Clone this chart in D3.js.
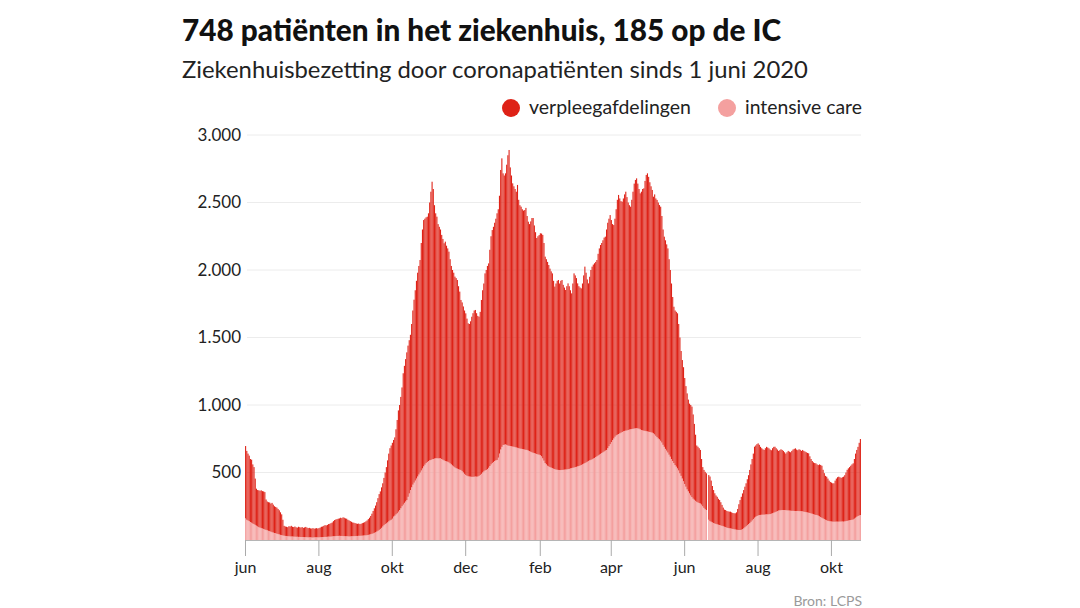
<!DOCTYPE html>
<html>
<head>
<meta charset="utf-8">
<script src="https://cdn.jsdelivr.net/npm/d3@7"></script>
<style>
  html, body { margin: 0; padding: 0; background: #fff; }
  svg { display: block; font-family: Lato, "Open Sans", sans-serif; }
</style>
</head>
<body>
<svg id="chart" width="1080" height="608"></svg>
<script>
// ---------- DATA ----------
const titleText = "748 patiënten in het ziekenhuis, 185 op de IC";
const subtitleText = "Ziekenhuisbezetting door coronapatiënten sinds 1 juni 2020";
const sourceText = "Bron: LCPS";
const seriesNames = ["verpleegafdelingen", "intensive care"];
const startDate = "2020-06-01";   // first day (category) of the series

// total hospital occupancy (verpleegafdelingen + IC), one value per day
const totaal = [
  // jun 2020
  696,660,640,625,600,595,560,540,455,380,370,368,365,368,362,360,355,300,285,280,278,270,275,262,250,245,240,230,220,205,
  // jul 2020
  190,150,105,100,98,95,102,100,105,98,96,100,94,92,98,95,92,96,90,93,97,92,88,90,86,85,88,84,86,88,85,
  // aug 2020
  88,92,98,100,105,110,108,112,118,120,125,130,140,148,152,155,158,160,165,162,168,165,160,158,150,145,140,135,130,128,125,
  // sep 2020
  122,120,122,118,120,125,128,132,138,145,155,165,178,195,215,235,255,280,310,340,360,390,420,460,500,540,590,640,680,700,
  // okt 2020
  720,741,760,820,889,960,1000,1060,1130,1235,1290,1340,1390,1440,1480,1520,1600,1700,1780,1850,1920,1980,2030,2074,2200,2300,2370,2380,2390,2395,2420,
  // nov 2020
  2500,2580,2654,2600,2480,2420,2395,2340,2320,2300,2260,2230,2198,2210,2180,2160,2136,2080,2030,2000,1980,1951,1940,1926,1880,1840,1778,1760,1730,1700,
  // dec 2020
  1679,1640,1605,1600,1620,1654,1680,1700,1704,1680,1660,1654,1690,1778,1850,1900,1975,2000,2030,2049,2150,2250,2296,2320,2350,2380,2420,2450,2550,2741,2827,
  // jan 2021
  2716,2700,2716,2780,2850,2889,2760,2700,2642,2620,2600,2580,2630,2520,2480,2469,2450,2440,2444,2460,2400,2358,2340,2360,2385,2385,2330,2280,2237,2250,2259,
  // feb 2021
  2272,2270,2260,2200,2099,2080,2060,2037,2010,1990,1975,1920,1877,1900,1920,1926,1900,1920,1926,1890,1870,1852,1880,1901,1880,1850,1827,1900,
  // mrt 2021
  1975,1960,1940,1901,1880,1870,1864,1900,1960,2025,1980,1930,1901,1950,2000,2025,2040,2050,2060,2074,2120,2160,2185,2200,2220,2240,2247,2300,2350,2380,2407,
  // apr 2021
  2370,2340,2333,2380,2450,2520,2556,2530,2510,2506,2530,2560,2580,2540,2500,2480,2469,2520,2580,2640,2667,2679,2640,2600,2568,2580,2600,2605,2660,2704,
  // mei 2021
  2716,2690,2650,2620,2593,2543,2560,2530,2519,2500,2481,2469,2400,2300,2247,2220,2190,2160,2080,2000,1900,1800,1728,1700,1690,1679,1600,1500,1400,1333,1280,
  // jun 2021
  1200,1140,1086,1040,1010,1000,988,930,860,780,700,691,680,667,600,540,519,505,494,null,481,470,440,400,370,346,330,320,305,296,
  // jul 2021
  280,260,240,225,222,215,212,210,210,205,200,198,198,205,230,265,296,320,345,370,395,420,450,480,519,560,600,640,691,700,710,
  // aug 2021
  716,705,690,680,672,667,680,690,685,679,670,665,680,690,691,680,670,660,665,672,667,660,650,640,650,660,654,650,660,670,675,
  // sep 2021
  679,670,665,672,668,660,667,660,655,650,645,642,620,600,585,575,570,568,560,555,560,556,550,520,495,475,469,455,440,430,
  // okt 2021
  425,420,420,440,455,465,469,465,460,465,469,480,500,520,531,540,550,560,568,600,640,667,690,720,748
];

// intensive care occupancy, one value per day
const ic = [
  // jun 2020
  160,150,145,140,133,128,122,118,112,106,100,95,92,88,85,82,78,75,72,68,65,62,58,55,52,50,47,44,41,38,
  // jul 2020
  36,34,32,30,30,28,28,27,26,26,25,25,24,24,23,23,22,22,22,21,21,21,20,20,20,19,19,20,20,20,20,
  // aug 2020
  20,21,21,22,22,23,23,24,25,25,26,27,28,28,29,30,30,31,30,30,29,29,28,28,28,27,27,28,28,29,29,
  // sep 2020
  30,30,31,31,32,32,33,34,35,36,38,40,43,46,49,53,57,62,68,75,82,90,100,110,118,123,130,138,145,150,
  // okt 2020
  158,173,180,190,198,210,222,235,250,262,275,285,296,320,345,370,390,410,425,440,455,470,485,500,515,530,545,558,570,578,585,
  // nov 2020
  590,593,598,600,603,605,606,605,605,605,600,595,590,585,582,580,575,568,560,552,545,538,532,528,524,521,519,510,500,490,
  // dec 2020
  482,476,472,470,469,468,468,469,470,469,470,475,482,490,500,508,515,519,525,535,548,560,570,578,585,590,593,610,640,670,690,
  // jan 2021
  704,706,708,705,700,698,696,694,692,691,688,685,683,680,678,676,674,672,670,668,667,662,658,654,650,646,643,640,637,634,632,
  // feb 2021
  628,620,605,588,570,560,550,545,540,536,532,528,525,522,520,519,518,518,519,520,521,522,523,525,527,530,532,535,
  // mrt 2021
  537,540,542,545,548,552,556,560,565,570,575,580,586,590,594,598,603,608,614,620,626,632,638,644,650,656,662,667,680,695,710,
  // apr 2021
  725,740,752,765,775,780,785,790,795,800,805,808,810,812,815,818,820,822,824,826,827,828,827,825,820,815,812,810,808,806,
  // mei 2021
  804,802,800,798,795,790,782,772,762,752,745,735,722,705,690,675,662,648,632,617,600,585,570,555,543,530,515,494,475,455,435,
  // jun 2021
  415,395,375,360,345,330,318,306,298,290,283,278,274,270,262,250,238,228,222,null,150,140,135,130,126,122,119,116,113,111,
  // jul 2021
  108,105,102,98,95,92,89,87,86,84,82,80,78,76,75,74,74,76,80,86,94,102,110,118,125,135,145,155,165,172,178,
  // aug 2021
  182,185,186,187,188,188,189,190,190,191,192,195,198,202,206,210,214,218,220,221,222,222,222,221,220,219,218,217,216,216,215,
  // sep 2021
  215,215,215,214,214,213,212,210,208,206,204,202,200,197,194,191,188,186,185,180,175,170,165,160,155,150,146,142,140,138,
  // okt 2021
  137,136,136,136,136,136,136,137,137,137,136,138,140,142,144,146,148,150,152,158,165,172,178,182,185
];

// axis ticks
const yTicks = [500, 1000, 1500, 2000, 2500, 3000];
const xTickDates = ["2020-06-01","2020-08-01","2020-10-01","2020-12-01","2021-02-01","2021-04-01","2021-06-01","2021-08-01","2021-10-01"];
const xTickLabels = ["jun","aug","okt","dec","feb","apr","jun","aug","okt"];

// ---------- CHART ----------
const svg = d3.select("#chart");
const parse = d3.utcParse("%Y-%m-%d");
const start = parse(startDate);
const days = totaal.map((_, i) => d3.utcDay.offset(start, i));
const end = d3.utcDay.offset(start, totaal.length);

const rows = days.map((d, i) => ({
  date: d,
  ic: ic[i],
  verpleeg: (totaal[i] == null || ic[i] == null) ? null : totaal[i] - ic[i]
})).filter(r => r.ic != null);

const colors = { verpleeg: "#de2217", ic: "#f4a09f" };

const x = d3.scaleUtc().domain([start, end]).range([245, 861]);
const y = d3.scaleLinear().domain([0, 3000]).range([540, 135]);

function fitText(sel, target) {
  const w = sel.node().getComputedTextLength();
  const fs = parseFloat(sel.attr("font-size"));
  sel.attr("font-size", (fs * target / w).toFixed(2));
}

// title & subtitle
const title = svg.append("text").attr("x", 182).attr("y", 41)
  .attr("font-size", 26).attr("font-weight", 900).attr("fill", "#111").text(titleText);
fitText(title, 599);
const sub = svg.append("text").attr("x", 182).attr("y", 78)
  .attr("font-size", 21).attr("fill", "#222").text(subtitleText);
fitText(sub, 626);

// legend
const legend = [
  { name: seriesNames[0], color: colors.verpleeg, cx: 511, tx: 529, w: 162 },
  { name: seriesNames[1], color: colors.ic, cx: 727, tx: 745, w: 117 }
];
legend.forEach(l => {
  svg.append("circle").attr("cx", l.cx).attr("cy", 108).attr("r", 9).attr("fill", l.color);
  const t = svg.append("text").attr("x", l.tx).attr("y", 114).attr("font-size", 17)
    .attr("fill", "#222").text(l.name);
  fitText(t, l.w);
});

// gridlines
svg.append("g").selectAll("line").data(yTicks).join("line")
  .attr("x1", 247).attr("x2", 861)
  .attr("y1", d => y(d)).attr("y2", d => y(d))
  .attr("stroke", "#ececec").attr("stroke-width", 1);

// y labels
svg.append("g").selectAll("text").data(yTicks).join("text")
  .attr("x", 241).attr("y", d => y(d)).attr("dy", "0.35em")
  .attr("text-anchor", "end").attr("font-size", 17).attr("fill", "#222")
  .text(d => d3.format(",")(d).replace(/,/g, "."));

// stacked bars
const step = x(d3.utcDay.offset(start, 1)) - x(start);
const bw = step * 0.9;
const gBars = svg.append("g");
gBars.selectAll("rect.ic").data(rows).join("rect").attr("class", "ic")
  .attr("x", d => x(d.date) + (step - bw) / 2).attr("width", bw)
  .attr("y", d => y(d.ic)).attr("height", d => y(0) - y(d.ic))
  .attr("fill", colors.ic);
gBars.selectAll("rect.vp").data(rows).join("rect").attr("class", "vp")
  .attr("x", d => x(d.date) + (step - bw) / 2).attr("width", bw)
  .attr("y", d => y(d.ic + d.verpleeg)).attr("height", d => y(d.ic) - y(d.ic + d.verpleeg))
  .attr("fill", colors.verpleeg);

// x axis
const tickDates = xTickDates.map(parse);
const xAxis = d3.axisBottom(x).tickValues(tickDates)
  .tickFormat((d, i) => xTickLabels[i]).tickSize(16).tickPadding(6);
const gx = svg.append("g").attr("transform", "translate(0,540)").call(xAxis);
gx.select(".domain").attr("stroke", "#b5b5b5").attr("d", "M245,0.5H861");
gx.selectAll(".tick line").attr("stroke", "#aaa");
gx.selectAll(".tick text").attr("font-size", 16).attr("fill", "#222")
  .attr("font-family", "Lato, sans-serif");

// source
svg.append("text").attr("x", 862).attr("y", 606).attr("text-anchor", "end")
  .attr("font-size", 14).attr("fill", "#9a9a9a").text(sourceText);
</script>
</body>
</html>
